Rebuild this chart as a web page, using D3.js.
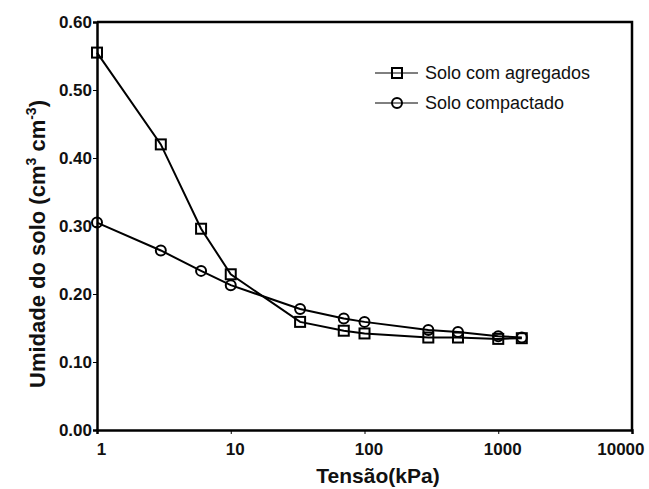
<!DOCTYPE html>
<html>
<head>
<meta charset="utf-8">
<script src="https://cdn.jsdelivr.net/npm/d3@7"></script>
<style>
  body { margin: 0; background: #fff; }
  svg { display: block; font-family: "Liberation Sans", Arial, sans-serif; }
</style>
</head>
<body>
<div id="chart"></div>
<script>
// tension (kPa) and soil moisture (cm3 cm-3)
var tensao = [1, 3, 6, 10, 33, 70, 100, 300, 500, 1000, 1500];
var soloAgregados = [0.555, 0.420, 0.296, 0.229, 0.159, 0.146, 0.142, 0.136, 0.136, 0.134, 0.135];
var soloCompactado = [0.305, 0.264, 0.234, 0.213, 0.178, 0.164, 0.159, 0.147, 0.144, 0.138, 0.136];
var xTicks = [1, 10, 100, 1000, 10000];
var yTicks = [0, 0.1, 0.2, 0.3, 0.4, 0.5, 0.6];
var seriesNames = ["Solo com agregados", "Solo compactado"];

var width = 649, height = 489;
var margin = { top: 22, right: 17, bottom: 59, left: 97 };
var chart_width = width - margin.left - margin.right;
var chart_height = height - margin.top - margin.bottom;

var svg = d3.select("#chart").append("svg")
    .attr("width", width)
    .attr("height", height);

var g = svg.append("g")
    .attr("transform", `translate(${margin.left}, ${margin.top})`);

var x = d3.scaleLog().domain([1, 10000]).range([0, chart_width]);
var y = d3.scaleLinear().domain([0, 0.6]).range([chart_height, 0]);

// frame (top and right)
g.append("path")
    .attr("d", `M0,0H${chart_width}V${chart_height}`)
    .attr("fill", "none")
    .attr("stroke", "#000")
    .attr("stroke-width", 2.5);

// axes
var xAxis = g.append("g")
    .attr("transform", `translate(0, ${chart_height})`)
    .call(d3.axisBottom(x).tickValues(xTicks).tickFormat(d3.format("d")).tickSize(4).tickPadding(9));

var yAxis = g.append("g")
    .call(d3.axisLeft(y).tickValues(yTicks).tickFormat(d3.format(".2f")).tickSize(4).tickPadding(1));

[xAxis, yAxis].forEach(function (a) {
    a.select(".domain").attr("stroke-width", 2.5);
    a.selectAll(".tick line").attr("stroke-width", 1);
    a.selectAll(".tick text")
        .attr("font-family", "Liberation Sans, Arial, sans-serif")
        .attr("font-size", "17px")
        .attr("font-weight", "bold")
        .attr("fill", "#111");
});

// labels sit a little right of their ticks; last one kept inside the page
xAxis.selectAll(".tick text")
    .attr("dx", 4)
    .filter(function (d) { return d === 10000; })
    .attr("text-anchor", "end")
    .attr("dx", 12);

// data lines and markers
var series = [
    { name: seriesNames[0], values: soloAgregados, shape: "square" },
    { name: seriesNames[1], values: soloCompactado, shape: "circle" }
];

var line = d3.line()
    .x(function (d) { return x(d[0]); })
    .y(function (d) { return y(d[1]); });

function drawMarker(sel, shape) {
    if (shape === "square") {
        sel.append("rect")
            .attr("x", -5).attr("y", -5)
            .attr("width", 10).attr("height", 10)
            .attr("fill", "none").attr("stroke", "#000").attr("stroke-width", 2);
    } else {
        sel.append("circle")
            .attr("r", 5)
            .attr("fill", "none").attr("stroke", "#000").attr("stroke-width", 2);
    }
}

series.forEach(function (s) {
    var pts = tensao.map(function (t, i) { return [t, s.values[i]]; });
    g.append("path")
        .datum(pts)
        .attr("d", line)
        .attr("fill", "none")
        .attr("stroke", "#000")
        .attr("stroke-width", 2);
    g.selectAll(null)
        .data(pts)
        .enter()
        .append("g")
        .attr("transform", function (d) { return `translate(${x(d[0])}, ${y(d[1])})`; })
        .each(function () { drawMarker(d3.select(this), s.shape); });
});

// legend
var legend = svg.append("g").attr("transform", "translate(375, 73)");
series.forEach(function (s, i) {
    var row = legend.append("g").attr("transform", `translate(0, ${i * 30})`);
    row.append("line")
        .attr("x1", 0).attr("x2", 43)
        .attr("stroke", "#000").attr("stroke-width", 1);
    drawMarker(row.append("g").attr("transform", "translate(22, 0)"), s.shape);
    row.append("text")
        .attr("x", 50).attr("y", 6)
        .attr("font-size", "18px")
        .attr("fill", "#111")
        .text(s.name);
});

// axis titles
svg.append("text")
    .attr("x", 378)
    .attr("y", 483)
    .attr("text-anchor", "middle")
    .attr("font-size", "21px")
    .attr("font-weight", "bold")
    .attr("fill", "#111")
    .text("Tensão(kPa)");

var yTitle = svg.append("text")
    .attr("transform", `translate(45, ${margin.top + chart_height / 2 + 18}) rotate(-90)`)
    .attr("text-anchor", "middle")
    .attr("font-size", "22px")
    .attr("font-weight", "bold")
    .attr("fill", "#111");
yTitle.append("tspan").text("Umidade do solo (cm");
yTitle.append("tspan").attr("dy", -9).attr("font-size", "14px").text("3");
yTitle.append("tspan").attr("dy", 9).text(" cm");
yTitle.append("tspan").attr("dy", -9).attr("font-size", "14px").text("-3");
yTitle.append("tspan").attr("dy", 9).text(")");
</script>
</body>
</html>
